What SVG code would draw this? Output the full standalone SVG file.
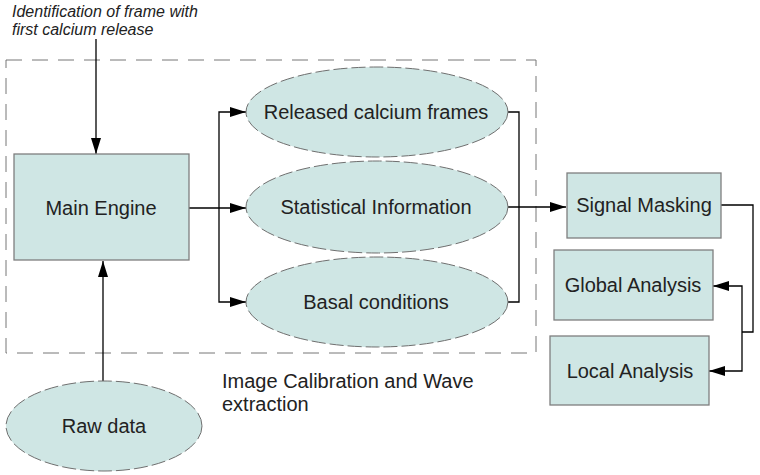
<svg xmlns="http://www.w3.org/2000/svg" width="760" height="475" viewBox="0 0 760 475">
<defs>
<marker id="arr" viewBox="0 0 16 10" refX="16" refY="5" markerWidth="16" markerHeight="10" markerUnits="userSpaceOnUse" orient="auto">
<path d="M0,0 L16,5 L0,10 z" fill="#000"/>
</marker>
<style>
.box{fill:#cfe6e4;stroke:#7f7f7f;stroke-width:1.3}
.ell{fill:#cfe6e4;stroke:#6f6f6f;stroke-width:1;stroke-dasharray:14 4}
.t{font-family:"Liberation Sans",Arial,sans-serif;font-size:20px;fill:#222;text-anchor:middle}
.c{fill:none;stroke:#000;stroke-width:1.3}
</style>
</defs>
<rect width="760" height="475" fill="#fff"/>
<rect x="6" y="60" width="530" height="293" fill="none" stroke="#777" stroke-width="1" stroke-dasharray="16 10"/>
<text x="12" y="17" font-family="Liberation Sans,Arial,sans-serif" font-size="16" font-style="italic" fill="#222">Identification of frame with</text>
<text x="12" y="35" font-family="Liberation Sans,Arial,sans-serif" font-size="16" font-style="italic" fill="#222">first calcium release</text>
<text x="222" y="388" font-family="Liberation Sans,Arial,sans-serif" font-size="20" fill="#222">Image Calibration and Wave</text>
<text x="222" y="411" font-family="Liberation Sans,Arial,sans-serif" font-size="20" fill="#222">extraction</text>
<g id="connectors">
<path class="c" d="M96,39 V154" marker-end="url(#arr)"/>
<path class="c" d="M103,381 V261" marker-end="url(#arr)"/>
<path class="c" d="M189,208 H246" marker-end="url(#arr)"/>
<path class="c" d="M219,208 V112 H246" marker-end="url(#arr)"/>
<path class="c" d="M219,208 V302 H246" marker-end="url(#arr)"/>
<path class="c" d="M508,112 H519 V302 H508"/>
<path class="c" d="M508,207 H566" marker-end="url(#arr)"/>
<path class="c" d="M721,205 H753 V332 H742"/>
<path class="c" d="M742,332 V286 H713" marker-end="url(#arr)"/>
<path class="c" d="M742,332 V371 H709" marker-end="url(#arr)"/>
</g>
<g id="main-engine"><rect class="box" x="14" y="154" width="175" height="106"/><text class="t" x="101" y="215">Main Engine</text></g>
<g id="raw-data"><ellipse class="ell" cx="104" cy="426" rx="98" ry="45"/><text class="t" x="104" y="433">Raw data</text></g>
<g id="released"><ellipse class="ell" cx="377" cy="112" rx="131" ry="45"/><text class="t" x="376" y="119">Released calcium frames</text></g>
<g id="statistical"><ellipse class="ell" cx="377" cy="207" rx="131" ry="46"/><text class="t" x="376" y="214">Statistical Information</text></g>
<g id="basal"><ellipse class="ell" cx="377" cy="302" rx="131" ry="45"/><text class="t" x="376" y="309">Basal conditions</text></g>
<g id="signal-masking"><rect class="box" x="567" y="173" width="154" height="65"/><text class="t" x="644" y="212">Signal Masking</text></g>
<g id="global-analysis"><rect class="box" x="554" y="250" width="159" height="70"/><text class="t" x="633" y="292">Global Analysis</text></g>
<g id="local-analysis"><rect class="box" x="550" y="336" width="159" height="69"/><text class="t" x="630" y="378">Local Analysis</text></g>
</svg>
